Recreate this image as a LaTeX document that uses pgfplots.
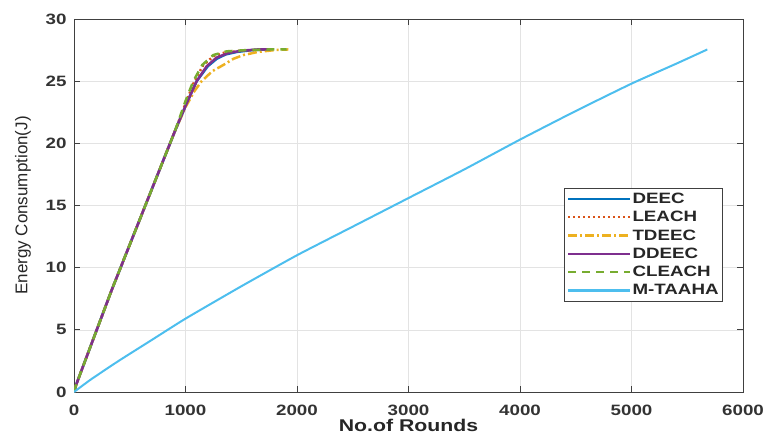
\documentclass[border=0pt]{standalone}
\usepackage{fontspec}
\setmainfont{Liberation Sans}[FakeStretch=1.25]
\newfontfamily\ylabfont{Liberation Sans}
\usepackage{pgfplots}
\pgfplotsset{compat=1.18}

\definecolor{mdeec}{rgb}{0,0.447,0.741}
\definecolor{mleach}{rgb}{0.85,0.325,0.098}
\definecolor{mtdeec}{rgb}{0.929,0.694,0.125}
\definecolor{mddeec}{rgb}{0.494,0.184,0.556}
\definecolor{mcleach}{rgb}{0.466,0.674,0.188}
\definecolor{mtaaha}{rgb}{0.301,0.745,0.933}
\definecolor{axgray}{rgb}{0.25,0.25,0.25}

\begin{document}
\begin{tikzpicture}
\begin{axis}[
  name=ax,
  scale only axis,
  width=669pt, height=373pt,
  xmin=0, xmax=6000, ymin=0, ymax=30,
  xtick={0,1000,...,6000}, ytick={0,5,...,30},
  scaled x ticks=false,
  /pgf/number format/1000 sep={},
  /pgf/number format/assume math mode=true,
  tick align=inside,
  major tick length=6pt,
  axis line style={axgray, line width=0.8pt},
  every tick/.style={axgray, line width=0.8pt},
  grid=major,
  major grid style={gray!22, line width=0.6pt},
  tick label style={font=\fontsize{15}{18}\selectfont\bfseries, text=black!80},
  xticklabel style={yshift=-9pt},
  yticklabel style={xshift=-4pt},
  xlabel={No.of Rounds},
  ylabel={Energy Consumption(J)},
  xlabel style={font=\fontsize{17}{20}\selectfont\bfseries, text=black!85, at={(axis description cs:0.5,0)}, anchor=north, yshift=-24pt},
  ylabel style={font=\fontsize{17}{20}\selectfont\ylabfont, text=black!85, at={(axis description cs:-0.0762,0.5)}, anchor=center},
  legend cell align=left,
  legend style={at={(axis description cs:0.9701,0.5469)}, anchor=north east,
    draw=axgray, line width=0.8pt, fill=white,
    font=\fontsize{15}{17}\selectfont\bfseries, text=black!85,
    row sep=3.3pt, inner xsep=3pt, inner ysep=3pt,
    nodes={inner sep=1pt, text height=11pt, text depth=2pt}},
  legend image code/.code={\draw[#1, line width=2.4pt] (0pt,0pt) -- (62pt,0pt);},
]
\addplot[mdeec, line width=2.5pt] coordinates {
(0,0) (20,0.6) (338,8.2) (906,21.0) (1000,23.0) (1100,25.0) (1200,26.2) (1280,26.8) (1360,27.15) (1460,27.35) (1600,27.5) (1758,27.55)};
\addlegendentry{DEEC}
\addplot[mleach, line width=2.5pt, dash pattern=on 2pt off 3pt] coordinates {
(0,0) (20,0.6) (338,8.2) (906,21.0) (1000,23.2) (1080,25.0) (1160,26.3) (1250,27.0) (1350,27.3) (1500,27.45) (1700,27.55)};
\addlegendentry{LEACH}
\addplot[mtdeec, line width=2.5pt, dash pattern=on 9pt off 3pt on 2pt off 3pt] coordinates {
(0,0) (20,0.6) (338,8.2) (906,21.0) (1000,22.9) (1080,24.2) (1145,25.0) (1240,25.8) (1339,26.3) (1430,26.8) (1519,27.1) (1650,27.35) (1800,27.5) (1922,27.55)};
\addlegendentry{TDEEC}
\addplot[mddeec, line width=2.5pt] coordinates {
(0,0) (20,0.6) (338,8.2) (906,21.0) (1000,23.0) (1100,25.0) (1190,26.2) (1280,26.9) (1380,27.25) (1500,27.45) (1650,27.55) (1760,27.55)};
\addlegendentry{DDEEC}
\addplot[mcleach, line width=2.5pt, dash pattern=on 8pt off 6pt] coordinates {
(0,0) (20,0.6) (338,8.2) (906,21.0) (1000,23.4) (1070,25.0) (1150,26.3) (1249,27.1) (1370,27.4) (1550,27.5) (1750,27.55) (1908,27.55)};
\addlegendentry{CLEACH}
\addplot[mtaaha, line width=2pt, smooth, tension=0.3] coordinates {
(0,0) (150,1.0) (400,2.5) (700,4.2) (1000,5.9) (1500,8.5) (2000,11.0) (2500,13.3) (3000,15.6) (3500,17.9) (4000,20.3) (4500,22.6) (5000,24.8) (5400,26.4) (5680,27.55)};
\addlegendentry{M-TAAHA}
\end{axis}
\pgfresetboundingbox
\path ([shift={(-74pt,-44pt)}]ax.south west) rectangle ([shift={(20pt,19pt)}]ax.north east);
\end{tikzpicture}
\end{document}
